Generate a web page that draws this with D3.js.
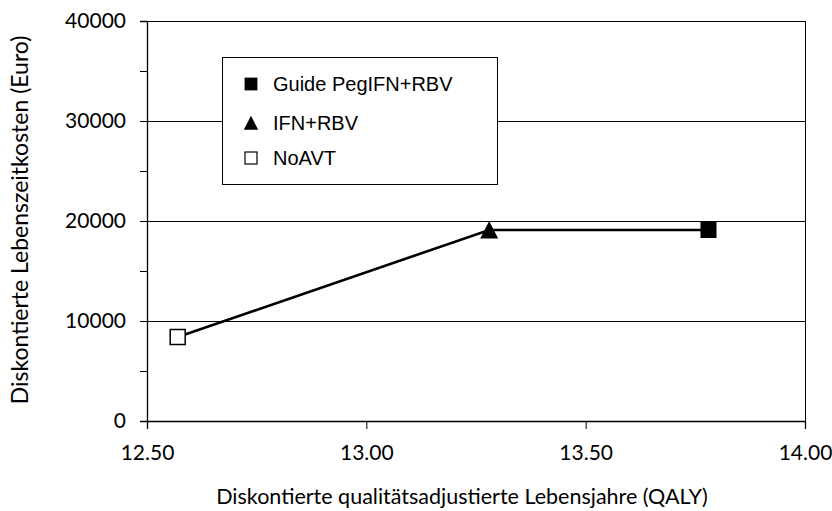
<!DOCTYPE html>
<html>
<head>
<meta charset="utf-8">
<script src="https://cdn.jsdelivr.net/npm/d3@7"></script>
<style>
  body { margin: 0; background: #fff; }
  .tick text { font-family: Lato, "Open Sans", sans-serif; font-size: 21px; fill: #000; }
</style>
</head>
<body>
<svg width="832" height="511"></svg>
<script>
// strategies, in the order the line joins them
const names = ["NoAVT", "IFN+RBV", "Guide PegIFN+RBV"];
const qaly = [12.57, 13.28, 13.78];
const costs = [8400, 19100, 19100];
const symbols = ["openSquare", "triangle", "square"];

// legend order as in the box
const legendOrder = ["Guide PegIFN+RBV", "IFN+RBV", "NoAVT"];

const xTicks = [12.5, 13.0, 13.5, 14.0];
const yTicks = [0, 10000, 20000, 30000, 40000];
const yMinor = [5000, 15000, 25000, 35000];

var svg = d3.select("svg"),
    margin = {left: 147, top: 21, right: 27, bottom: 90},
    width = +svg.attr("width") - margin.left - margin.right,
    height = +svg.attr("height") - margin.top - margin.bottom;

var x = d3.scaleLinear().domain([12.5, 14.0]).range([0, width]);
var y = d3.scaleLinear().domain([0, 40000]).range([height, 0]);

var g = svg.append("g").attr("transform", `translate(${margin.left},${margin.top})`);

// gridlines
g.append("g")
    .selectAll("line")
    .data(yTicks.filter(d => d > 0))
    .enter().append("line")
    .attr("x1", 0).attr("x2", width)
    .attr("y1", d => Math.round(y(d)) + 0.5)
    .attr("y2", d => Math.round(y(d)) + 0.5)
    .attr("stroke", "#000")
    .attr("stroke-width", 1);

// right border
g.append("line")
    .attr("x1", width + 0.5).attr("x2", width + 0.5)
    .attr("y1", 0).attr("y2", height)
    .attr("stroke", "#000");

// y axis
g.append("g")
    .call(d3.axisLeft(y).tickValues(yTicks).tickFormat(d3.format("d")).tickSize(7).tickPadding(14));
g.append("g")
    .call(d3.axisLeft(y).tickValues(yMinor).tickFormat("").tickSize(7))
    .select(".domain").remove();

// x axis
g.append("g")
    .attr("transform", `translate(0,${height})`)
    .call(d3.axisBottom(x).tickValues(xTicks).tickFormat(d3.format(".2f")).tickSize(8).tickPadding(16));

svg.selectAll(".domain").attr("stroke", "#000").attr("stroke-width", 1.3);
svg.selectAll(".tick line").attr("stroke", "#000");

// axis titles
svg.append("text")
    .attr("x", 462)
    .attr("y", 504)
    .attr("text-anchor", "middle")
    .style("font-family", "Lato, 'Open Sans', sans-serif")
    .style("font-size", "21.5px")
    .text("Diskontierte qualitätsadjustierte Lebensjahre (QALY)");

svg.append("text")
    .attr("transform", "translate(28,220) rotate(-90)")
    .attr("text-anchor", "middle")
    .style("font-family", "Lato, 'Open Sans', sans-serif")
    .style("font-size", "23px")
    .text("Diskontierte Lebenszeitkosten (Euro)");

// line joining the strategies
var pts = names.map((n, i) => ({name: n, qaly: qaly[i], cost: costs[i], sym: symbols[i]}));

g.append("path")
    .datum(pts)
    .attr("fill", "none")
    .attr("stroke", "#000")
    .attr("stroke-width", 2.6)
    .attr("d", d3.line().x(d => x(d.qaly)).y(d => y(d.cost)));

function drawSymbol(sel, sym) {
    if (sym === "triangle") {
        sel.append("path")
            .attr("d", "M0,-9 L9,8.5 L-9,8.5 Z")
            .attr("fill", "#000");
    } else if (sym === "square") {
        sel.append("rect")
            .attr("x", -8).attr("y", -8).attr("width", 16).attr("height", 16)
            .attr("fill", "#000");
    } else {
        sel.append("rect")
            .attr("x", -7.5).attr("y", -7.5).attr("width", 15).attr("height", 15)
            .attr("fill", "#fff").attr("stroke", "#000").attr("stroke-width", 1.5);
    }
}

g.selectAll(".pt")
    .data(pts)
    .enter().append("g")
    .attr("class", "pt")
    .attr("transform", d => `translate(${x(d.qaly)},${y(d.cost)})`)
    .each(function (d) { drawSymbol(d3.select(this), d.sym); });

// legend
var legend = svg.append("g").attr("transform", "translate(222,57)");
legend.append("rect")
    .attr("x", 0.5).attr("y", 0.5)
    .attr("width", 275).attr("height", 127)
    .attr("fill", "#fff").attr("stroke", "#000");

var items = legend.selectAll(".item")
    .data(legendOrder)
    .enter().append("g")
    .attr("class", "item")
    .attr("transform", (d, i) => `translate(0,${[27, 66, 101][i]})`);

items.each(function (d) {
    var s = d3.select(this).append("g").attr("transform", "translate(29,0) scale(0.8)");
    drawSymbol(s, symbols[names.indexOf(d)]);
});

items.append("text")
    .attr("x", 51)
    .attr("y", 7)
    .style("font-family", "'Liberation Sans', Arial, sans-serif")
    .style("font-size", "20px")
    .text(d => d);
</script>
</body>
</html>
